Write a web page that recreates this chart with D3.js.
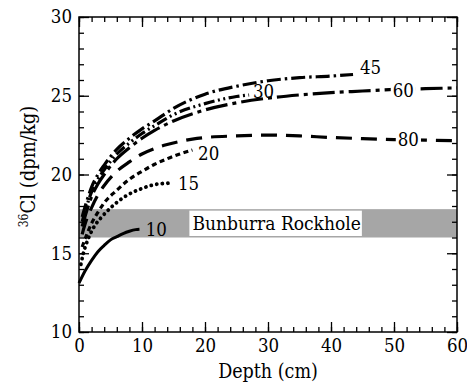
<!DOCTYPE html>
<html>
<head>
<meta charset="utf-8">
<script src="https://cdn.jsdelivr.net/npm/d3@7"></script>
<style>
  body { margin: 0; background: #fff; }
</style>
</head>
<body>
<svg id="chart" width="467" height="383"></svg>
<script>
const FONT = "'DejaVu Serif Condensed', 'DejaVu Serif', serif";

// curve names (numbers written next to each curve)
const curveNames = ["10", "15", "20", "30", "45", "60", "80"];

// depth (cm) / 36Cl (dpm/kg)
const depth10 = [0, 1, 2, 3, 4, 5, 6, 7, 8, 9, 9.6];
const cl10    = [13.1, 13.9, 14.55, 15.1, 15.5, 15.85, 16.05, 16.25, 16.4, 16.5, 16.52];

const depth15 = [0.3, 0.7, 1.5, 2.5, 3.6, 5.2, 7.3, 9.9, 12.6, 14.4];
const cl15    = [14.3, 15.0, 15.95, 16.75, 17.3, 17.95, 18.6, 19.1, 19.4, 19.45];

const depth20 = [0.5, 1, 2, 3, 4, 6, 8, 10, 12, 14, 16, 18];
const cl20    = [15.4, 15.95, 16.9, 17.6, 18.2, 19.0, 19.7, 20.2, 20.65, 21.0, 21.3, 21.55];

const depth30 = [0.5, 1, 2, 3, 4, 6, 8, 10, 12, 15, 20, 25, 27];
const cl30    = [17.0, 17.7, 18.9, 19.7, 20.3, 21.3, 22.0, 22.6, 23.1, 23.8, 24.5, 24.95, 25.05];

const depth45 = [0.5, 1, 2, 3, 4, 6, 8, 10, 12, 15, 20, 25, 30, 35, 40, 43.5];
const cl45    = [17.3, 18.0, 19.2, 20.0, 20.6, 21.6, 22.3, 22.9, 23.4, 24.2, 25.1, 25.6, 25.95, 26.15, 26.25, 26.35];

const depth60 = [0.5, 1, 2, 3, 4, 6, 8, 10, 12, 15, 20, 25, 30, 35, 40, 45, 50, 55, 60];
const cl60    = [16.7, 17.4, 18.6, 19.4, 20.0, 21.0, 21.7, 22.3, 22.8, 23.4, 24.1, 24.55, 24.85, 25.05, 25.2, 25.3, 25.4, 25.45, 25.5];

const depth80 = [0.5, 1, 2, 3, 4, 6, 8, 10, 12, 14, 16, 18, 20, 25, 30, 35, 40, 45, 50, 55, 60];
const cl80    = [16.2, 16.9, 17.9, 18.7, 19.3, 20.2, 20.8, 21.3, 21.65, 21.9, 22.1, 22.25, 22.35, 22.45, 22.5, 22.45, 22.35, 22.28, 22.22, 22.18, 22.15];

// where each curve's number sits (depth, value at text baseline)
const labelDepth = [10.6, 15.7, 18.9, 27.6, 44.6, 49.8, 50.6];
const labelValue = [16.1, 19.02, 20.92, 24.86, 26.38, 24.95, 21.78];

// measured range band
const bandName = "Bunburra Rockhole";
const bandLow = 16.0, bandHigh = 17.8, bandTextDepth = 18;

const xTicks = [0, 10, 20, 30, 40, 50, 60];
const yTicks = [10, 15, 20, 25, 30];

const depths = [depth10, depth15, depth20, depth30, depth45, depth60, depth80];
const values = [cl10, cl15, cl20, cl30, cl45, cl60, cl80];

const dashes = ["none", "0.1 5.5", "5 3.5", "11 3.5 2 3.5 2 3.5", "14 4 2.5 4", "22 5 4 5", "16 9"];
const caps   = ["butt", "round", "butt", "butt", "butt", "butt", "butt"];
const widths = [3, 3.8, 3.2, 3.2, 3.2, 3.2, 3.2];

const svg = d3.select("#chart");
const margin = {left: 79, right: 10, top: 17, bottom: 51};
const W = 467, H = 383;
const x = d3.scaleLinear().domain([0, 60]).range([margin.left, W - margin.right]);
const y = d3.scaleLinear().domain([10, 30]).range([H - margin.bottom, margin.top]);

// band + label box
svg.append("rect")
  .attr("x", x(0)).attr("width", x(60) - x(0))
  .attr("y", y(bandHigh)).attr("height", y(bandLow) - y(bandHigh))
  .attr("fill", "#a6a6a6");

const bandBox = svg.append("rect").attr("fill", "#fff");
const bandText = svg.append("text")
  .attr("x", x(bandTextDepth))
  .attr("y", (y(bandLow) + y(bandHigh)) / 2)
  .attr("dy", "0.36em")
  .attr("font-family", FONT)
  .attr("font-size", 19)
  .text(bandName);
const bb = bandText.node().getBBox();
bandBox.attr("x", bb.x - 3).attr("width", bb.width + 4)
  .attr("y", y(bandHigh) + 1.5).attr("height", y(bandLow) - y(bandHigh) - 3);

// curves
const line = d3.line()
  .x(d => x(d[0]))
  .y(d => y(d[1]))
  .curve(d3.curveMonotoneX);

curveNames.forEach((name, i) => {
  const pts = depths[i].map((d, j) => [d, values[i][j]]);
  svg.append("path")
    .attr("d", line(pts))
    .attr("fill", "none")
    .attr("stroke", "#000")
    .attr("stroke-width", widths[i])
    .attr("stroke-linecap", caps[i])
    .attr("stroke-dasharray", dashes[i]);
});

// curve numbers
curveNames.forEach((name, i) => {
  const t = svg.append("text")
    .attr("x", x(labelDepth[i]))
    .attr("y", y(labelValue[i]))
    .attr("font-family", FONT)
    .attr("font-size", 18.5)
    .text(name);
  if (name === "60" || name === "80") {
    const b = t.node().getBBox();
    svg.insert("rect", () => t.node())
      .attr("x", b.x - 2).attr("y", b.y + 3)
      .attr("width", b.width + 4).attr("height", b.height - 6)
      .attr("fill", "#fff");
  }
});

// axes, ticks pointing inward
function styleAxis(g) {
  g.attr("font-family", FONT);
  g.select(".domain").remove();
  g.selectAll("line").attr("stroke", "#000").attr("stroke-width", 1.3);
  g.selectAll("text").attr("font-size", 18.5).attr("fill", "#000")
    .attr("font-family", FONT);
}

const xMinor = d3.range(0, 61, 2);
const yMinor = d3.range(10, 31, 1);

svg.append("g").attr("transform", `translate(0,${y(10)})`)
  .call(d3.axisBottom(x).tickValues(xMinor).tickSize(-5).tickFormat(""))
  .call(styleAxis);
svg.append("g").attr("transform", `translate(0,${y(10)})`)
  .call(d3.axisBottom(x).tickValues(xTicks).tickSize(-10).tickPadding(7).tickFormat(d3.format("d")))
  .call(styleAxis);
svg.append("g").attr("transform", `translate(0,${y(30)})`)
  .call(d3.axisTop(x).tickValues(xMinor).tickSize(-5).tickFormat(""))
  .call(styleAxis);
svg.append("g").attr("transform", `translate(0,${y(30)})`)
  .call(d3.axisTop(x).tickValues(xTicks).tickSize(-10).tickFormat(""))
  .call(styleAxis);

svg.append("g").attr("transform", `translate(${x(0)},0)`)
  .call(d3.axisLeft(y).tickValues(yMinor).tickSize(-5).tickFormat(""))
  .call(styleAxis);
svg.append("g").attr("transform", `translate(${x(0)},0)`)
  .call(d3.axisLeft(y).tickValues(yTicks).tickSize(-10).tickPadding(7).tickFormat(d3.format("d")))
  .call(styleAxis);
svg.append("g").attr("transform", `translate(${x(60)},0)`)
  .call(d3.axisRight(y).tickValues(yMinor).tickSize(-5).tickFormat(""))
  .call(styleAxis);
svg.append("g").attr("transform", `translate(${x(60)},0)`)
  .call(d3.axisRight(y).tickValues(yTicks).tickSize(-10).tickFormat(""))
  .call(styleAxis);

// frame
svg.append("rect")
  .attr("x", x(0)).attr("y", y(30))
  .attr("width", x(60) - x(0)).attr("height", y(10) - y(30))
  .attr("fill", "none").attr("stroke", "#000").attr("stroke-width", 1.5);

// axis titles
svg.append("text")
  .attr("x", (x(0) + x(60)) / 2)
  .attr("y", 378)
  .attr("text-anchor", "middle")
  .attr("font-family", FONT)
  .attr("font-size", 19.5)
  .text("Depth (cm)");

const yl = svg.append("text")
  .attr("transform", `translate(35,${(y(10) + y(30)) / 2 - 8}) rotate(-90)`)
  .attr("text-anchor", "middle")
  .attr("font-family", FONT)
  .attr("font-size", 20);
yl.append("tspan").attr("font-size", 12).attr("baseline-shift", "55%").text("36");
yl.append("tspan").text("Cl (dpm/kg)");
</script>
</body>
</html>
